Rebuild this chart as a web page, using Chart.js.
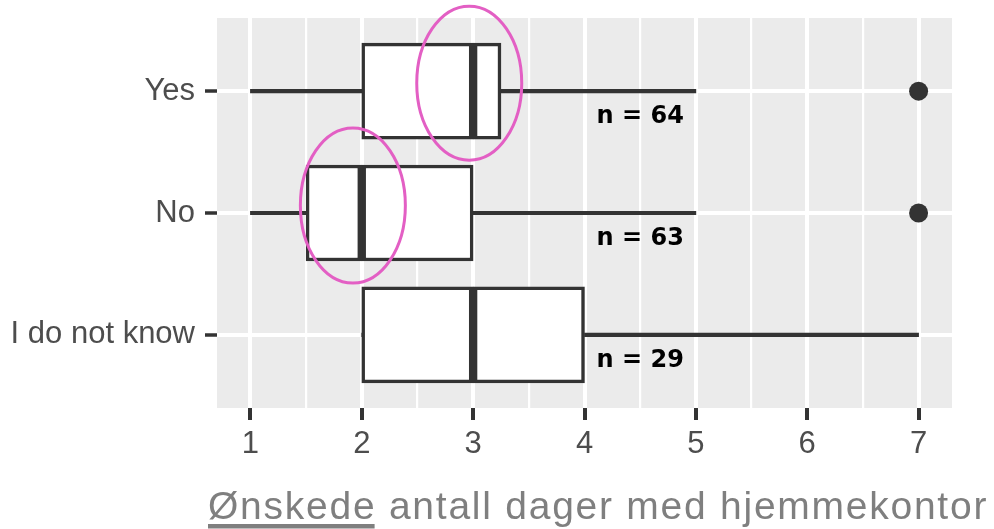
<!DOCTYPE html>
<html>
<head>
<meta charset="utf-8">
<script src="https://cdn.jsdelivr.net/npm/chart.js@4.4.1/dist/chart.umd.min.js"></script>
<style>
html,body{margin:0;padding:0;background:#fff;}
#wrap{width:994px;height:529px;}
</style>
</head>
<body>
<div id="wrap"><canvas id="c" width="994" height="529"></canvas></div>
<script>
// ---- data ----
const categories = ['Yes', 'No', 'I do not know'];
const whiskerMin = [1, 1, 2];
const q1 = [2, 1.5, 2];
const median = [3, 2, 3];
const q3 = [3.25, 3, 4];
const whiskerMax = [5, 5, 7];
const outlierValues = [7, 7, null];
const countLabels = ['n = 64', 'n = 63', 'n = 29'];
const xTickLabels = [1, 2, 3, 4, 5, 6, 7];
const countLabelX = 4.5;
const axisTitle = 'Ønskede antall dager med hjemmekontor';
const underlinedWord = 'Ønskede';

// annotation highlights (pink ellipses) : centre in data units + pixel shape
const highlights = [
  { x: 2.965, cat: 0, dy: -8, rx: 52.5, ry: 77 },
  { x: 1.92, cat: 1, dy: -7.5, rx: 52.5, ry: 77.5 }
];

const FONT = '"Liberation Sans", Arial, Helvetica, sans-serif';
const DARK = '#333333';
const idx = categories.map((_, i) => i);
const seg = (a, b) => idx.map(i => ({ y: i, x: [a[i], b[i]] }));

const bgPlugin = {
  id: 'bg',
  beforeDraw(chart) {
    const { ctx, chartArea: a } = chart;
    ctx.save();
    ctx.fillStyle = '#ffffff';
    ctx.fillRect(0, 0, chart.width, chart.height);
    ctx.fillStyle = '#EBEBEB';
    ctx.fillRect(a.left, a.top, a.right - a.left, a.bottom - a.top);
    ctx.restore();
  }
};

const labelPlugin = {
  id: 'labels',
  afterDatasetsDraw(chart) {
    const { ctx } = chart;
    const xs = chart.scales.x, ys = chart.scales.y;
    ctx.save();
    ctx.font = 'bold 24px "DejaVu Sans", Verdana, sans-serif';
    ctx.fillStyle = '#000000';
    ctx.textAlign = 'center';
    ctx.textBaseline = 'alphabetic';
    idx.forEach(i => {
      ctx.fillText(countLabels[i], xs.getPixelForValue(countLabelX), ys.getPixelForValue(i) + 32);
    });
    ctx.restore();
  },
  afterDraw(chart) {
    const { ctx } = chart;
    const xs = chart.scales.x, ys = chart.scales.y;
    ctx.save();
    ctx.strokeStyle = '#E35FC4';
    ctx.lineWidth = 3;
    highlights.forEach(h => {
      ctx.beginPath();
      ctx.ellipse(xs.getPixelForValue(h.x), ys.getPixelForValue(h.cat) + h.dy, h.rx, h.ry, 0, 0, Math.PI * 2);
      ctx.stroke();
    });
    // axis title
    ctx.font = '39px ' + FONT;
    ctx.letterSpacing = '1.75px';
    ctx.fillStyle = '#7F7F7F';
    ctx.textAlign = 'left';
    ctx.textBaseline = 'alphabetic';
    const tx = 208, ty = 519;
    ctx.fillText(axisTitle, tx, ty);
    const w = ctx.measureText(underlinedWord).width - 1.75;
    ctx.fillRect(tx, 524, w, 4.5);
    ctx.restore();
  }
};

const barCommon = { grouped: false, borderSkipped: false, borderRadius: 0 };

new Chart(document.getElementById('c'), {
  type: 'bar',
  data: {
    datasets: [
      {
        ...barCommon, label: 'lower box', data: seg(q1, median),
        backgroundColor: '#ffffff', borderColor: DARK,
        borderWidth: { top: 3.5, bottom: 3.5, left: 3.5, right: 4.5 }, barThickness: 96
      },
      {
        ...barCommon, label: 'upper box', data: seg(median, q3),
        backgroundColor: '#ffffff', borderColor: DARK,
        borderWidth: { top: 3.5, bottom: 3.5, left: 4.5, right: 3.5 }, barThickness: 96
      },
      {
        ...barCommon, label: 'lower whisker', data: seg(whiskerMin, q1),
        backgroundColor: DARK, borderWidth: 0, barThickness: 3.5
      },
      {
        ...barCommon, label: 'upper whisker', data: seg(q3, whiskerMax),
        backgroundColor: DARK, borderWidth: 0, barThickness: 3.5
      },
      {
        type: 'scatter', label: 'outliers',
        data: idx.filter(i => outlierValues[i] !== null).map(i => ({ x: outlierValues[i], y: i })),
        backgroundColor: DARK, borderWidth: 0, pointRadius: 9.5, pointHoverRadius: 9.5
      }
    ]
  },
  options: {
    indexAxis: 'y',
    responsive: false,
    animation: false,
    devicePixelRatio: 1,
    layout: { padding: { top: 18, right: 42, left: 0, bottom: 0 } },
    plugins: { legend: { display: false }, tooltip: { enabled: false }, title: { display: false } },
    scales: {
      x: {
        type: 'linear', min: 0.7, max: 7.3, offset: false, beginAtZero: false,
        border: { display: false },
        grid: {
          offset: false,
          color: '#ffffff',
          lineWidth: c => (c.tick && Number.isInteger(c.tick.value)) ? 4 : 2.2,
          tickLength: 12,
          tickWidth: 4,
          tickColor: c => (c.tick && Number.isInteger(c.tick.value)) ? DARK : 'rgba(0,0,0,0)'
        },
        ticks: {
          stepSize: 0.5, includeBounds: false, autoSkip: false, maxRotation: 0,
          padding: 6, color: '#4D4D4D', font: { family: FONT, size: 31 },
          callback: v => xTickLabels.includes(v) ? String(v) : ''
        },
        afterFit: s => { s.height = 121; s.paddingLeft = 0; s.paddingRight = 0; }
      },
      y: {
        type: 'linear', min: -0.6, max: 2.6, reverse: true, offset: false, beginAtZero: false,
        border: { display: false },
        grid: { offset: false, color: '#ffffff', lineWidth: 4, tickLength: 12, tickWidth: 3.5, tickColor: DARK },
        ticks: {
          stepSize: 1, includeBounds: false, autoSkip: false,
          padding: 10, color: '#4D4D4D', font: { family: FONT, size: 31 },
          callback: v => (categories[v] !== undefined ? categories[v] : '')
        },
        afterFit: s => { s.width = 217; s.paddingTop = 0; s.paddingBottom = 0; }
      }
    }
  },
  plugins: [bgPlugin, labelPlugin]
});
</script>
</body>
</html>
